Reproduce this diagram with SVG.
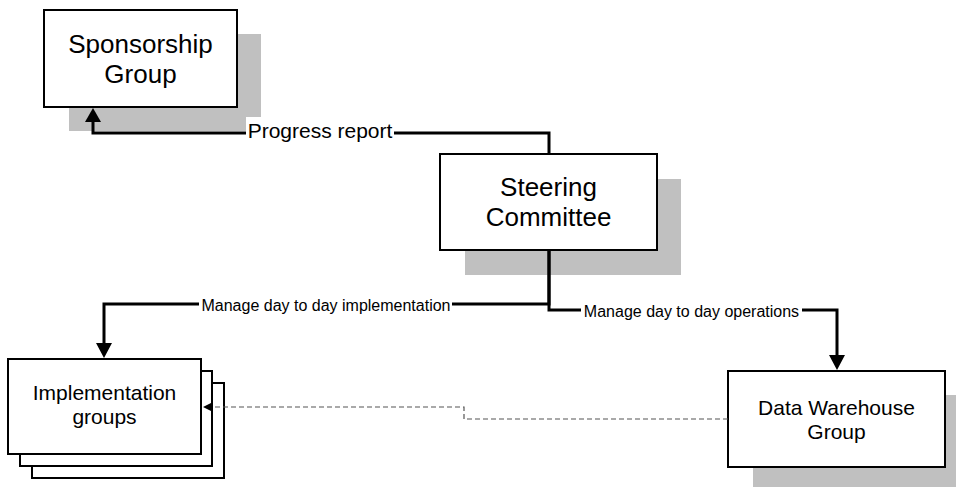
<svg xmlns="http://www.w3.org/2000/svg" width="956" height="487" viewBox="0 0 956 487">
<style>
.shadow{fill:#c0c0c0;stroke:none}
.box{fill:#fff;stroke:#000;stroke-width:2}
.t{font-family:"Liberation Sans",Arial,sans-serif;fill:#000;text-anchor:middle}
.big{font-size:26px}
.mid{font-size:21px}
.sm{font-size:16px}
.conn{fill:none;stroke:#000;stroke-width:3}
.dash{fill:none;stroke:#555;stroke-width:1.2;stroke-dasharray:5 3}
.lbl{fill:#fff;stroke:none}
</style>
<rect width="956" height="487" fill="#fff"/>
<g id="sponsorship">
<rect class="shadow" x="69" y="34" width="192" height="97"/>
<rect class="box" x="44" y="10" width="193" height="97"/>
<text class="t big" x="140.5" y="52.5">Sponsorship</text>
<text class="t big" x="140.5" y="82.5">Group</text>
</g>
<g id="steering">
<rect class="shadow" x="465" y="179" width="216" height="96"/>
<rect class="box" x="440" y="154" width="217" height="96"/>
<text class="t big" x="548.5" y="196">Steering</text>
<text class="t big" x="548.5" y="226">Committee</text>
</g>
<g id="datawarehouse">
<rect class="shadow" x="753" y="395" width="216" height="96"/>
<rect class="box" x="728" y="371" width="217" height="96"/>
<text class="t mid" x="836.5" y="414.5">Data Warehouse</text>
<text class="t mid" x="836.5" y="438.5">Group</text>
</g>
<g id="implementation">
<rect class="box" x="32" y="383" width="192" height="95"/>
<rect class="box" x="20" y="371" width="192" height="95"/>
<rect class="box" x="8" y="359" width="193" height="95"/>
<text class="t mid" x="104.5" y="400">Implementation</text>
<text class="t mid" x="104.5" y="424">groups</text>
</g>
<g id="connectors">
<path class="conn" d="M549,154 V133 H93 V121"/>
<polygon points="93,108 85,122 101,122" fill="#000"/>
<rect class="lbl" x="246" y="117" width="148" height="26"/>
<text class="t mid" x="320" y="137.5">Progress report</text>

<path class="conn" d="M549,250 V304 H104 V343"/>
<polygon points="104,358 96,343 112,343" fill="#000"/>
<rect class="lbl" x="199" y="296" width="253" height="19"/>
<text class="t sm" x="326" y="311">Manage day to day implementation</text>

<path class="conn" d="M549,250 V310 H837 V355"/>
<polygon points="837,370 829,355 845,355" fill="#000"/>
<rect class="lbl" x="581" y="301" width="221" height="19"/>
<text class="t sm" x="691.5" y="317">Manage day to day operations</text>

<path class="dash" d="M728,419 H464 V407 H212"/>
<polygon points="203,407 212,402.5 212,411.5" fill="#000"/>
</g>
</svg>
